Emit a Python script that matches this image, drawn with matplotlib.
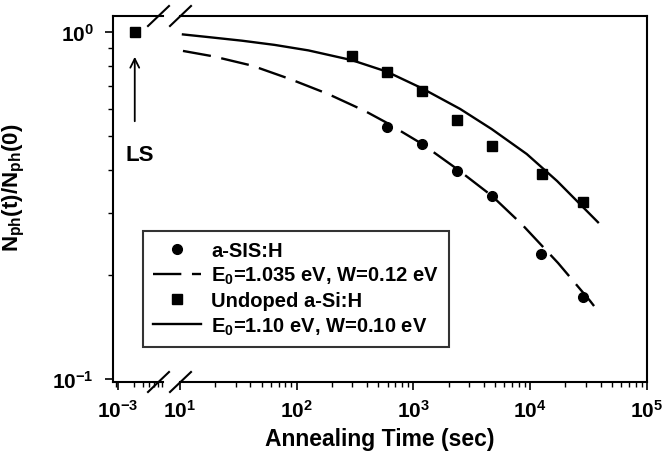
import matplotlib
matplotlib.use("Agg")
import matplotlib.pyplot as plt
from matplotlib.ticker import LogLocator, NullFormatter, FixedLocator
from matplotlib.lines import Line2D

plt.rcParams['font.family'] = ['Liberation Sans', 'DejaVu Sans']
plt.rcParams['font.weight'] = 'bold'
plt.rcParams['mathtext.fontset'] = 'custom'
plt.rcParams['mathtext.rm'] = 'Liberation Sans:bold'
plt.rcParams['mathtext.it'] = 'Liberation Sans:bold'
plt.rcParams['mathtext.bf'] = 'Liberation Sans:bold'
plt.rcParams['mathtext.default'] = 'rm'
plt.rcParams['axes.unicode_minus'] = False

# ---- data ----
ls_time = [2.1e-3]
ls_value = [1.0]

sis_time = [593, 1182, 2358, 4700, 12300, 28300]
sis_value = [0.532, 0.476, 0.3975, 0.337, 0.229, 0.172]

undoped_time = [297, 593, 1184, 2360, 4700, 12600, 28300]
undoped_value = [0.853, 0.767, 0.676, 0.558, 0.469, 0.390, 0.324]

fit_sis_time = [10.6, 19.2, 41.4, 87.5, 185, 384, 593, 1182, 2358, 4700, 8490, 17290, 32500, 38000]
fit_sis_value = [0.882, 0.851, 0.800, 0.732, 0.663, 0.592, 0.547, 0.476, 0.403, 0.337, 0.279, 0.216, 0.168, 0.157]

fit_undoped_time = [10.6, 17.4, 33.9, 64.6, 126, 295, 589, 1175, 2512, 4677, 9333, 16982, 38019]
fit_undoped_value = [0.984, 0.967, 0.944, 0.918, 0.885, 0.830, 0.769, 0.689, 0.600, 0.525, 0.445, 0.372, 0.283]

labels = ["a-SIS:H", r"E$_0$=1.035 eV, W=0.12 eV",
          "Undoped a-Si:H", r"E$_0$=1.10 eV, W=0.10 eV"]

W, H = 667, 464
fig = plt.figure(figsize=(W / 100, H / 100), dpi=100)

def fx(px):
    return px / W

def fy(py):
    return 1 - py / H

top, bot = 17, 383
ax1 = fig.add_axes([fx(113), fy(bot), fx(163) - fx(113), fy(top) - fy(bot)])
ax2 = fig.add_axes([fx(180), fy(bot), fx(647) - fx(180), fy(top) - fy(bot)])

ylim = (10 ** (-1 - 3 / 347), 10 ** (16 / 347))
for ax in (ax1, ax2):
    ax.set_yscale('log')
    ax.set_xscale('log')
    ax.set_ylim(*ylim)
    for s in ax.spines.values():
        s.set_linewidth(1.5)
    ax.tick_params(axis='both', which='major', direction='out', length=6, width=1.2,
                   labelsize=15, top=False, right=False)
    ax.tick_params(axis='x', which='major', pad=6)
    ax.tick_params(axis='y', which='major', pad=8)
    ax.tick_params(axis='both', which='minor', direction='out', length=3.5, width=1.0,
                   top=False, right=False)

ax1.set_xlim(10 ** (-3 - 5 / 52), 10 ** (-3 + 45 / 52))
ax2.set_xlim(10, 1e5)

ax1.spines['right'].set_visible(False)
ax2.spines['left'].set_visible(False)
ax2.tick_params(axis='y', which='both', left=False, labelleft=False)

ax1.xaxis.set_major_locator(FixedLocator([1e-3]))
ax1.xaxis.set_minor_locator(LogLocator(base=10, subs=range(2, 10), numticks=20))
ax1.xaxis.set_minor_formatter(NullFormatter())
ax2.xaxis.set_major_locator(LogLocator(base=10, numticks=10))
ax2.xaxis.set_minor_locator(LogLocator(base=10, subs=range(2, 10), numticks=20))
ax2.xaxis.set_minor_formatter(NullFormatter())
ax1.yaxis.set_major_locator(LogLocator(base=10, numticks=10))
ax1.yaxis.set_minor_locator(LogLocator(base=10, subs=range(2, 10), numticks=20))
ax1.yaxis.set_minor_formatter(NullFormatter())

# data
ax1.plot(ls_time, ls_value, 's', color='black', ms=7)
ax2.plot(fit_sis_time, fit_sis_value, color='black', lw=1.7, dashes=(12, 4.5))
ax2.plot(fit_undoped_time, fit_undoped_value, color='black', lw=1.7)
ax2.plot(sis_time, sis_value, 'o', color='black', ms=7)
ax2.plot(undoped_time, undoped_value, 's', color='black', ms=6.5)

# LS arrow
ax1.annotate('', xy=(ls_time[0], 0.864), xytext=(ls_time[0], 0.543),
             arrowprops=dict(arrowstyle='->', color='black', lw=1.3, mutation_scale=16))
ax1.text(1.4e-3, 0.445, 'LS', fontsize=16, fontweight='bold', ha='left', va='center')

ax1.set_ylabel(r'N$_{\mathregular{ph}}$(t)/N$_{\mathregular{ph}}$(0)', fontsize=16,
               fontweight='bold')
ax1.yaxis.set_label_coords((27 - 113) / 50, (383 - 188) / 366)
fig.text(fx(380), fy(440), 'Annealing Time (sec)', fontsize=16.5, fontweight='bold',
         ha='center', va='center')

# break marks
for x0 in (148, 170):
    for yc in (top, bot):
        fig.add_artist(Line2D([fx(x0), fx(x0 + 21)], [fy(yc + 10), fy(yc - 10)],
                              color='black', lw=1.5))

handles = [
    Line2D([], [], ls='none', marker='o', color='black', ms=7),
    Line2D([], [], color='black', lw=1.7, dashes=(12, 4.5)),
    Line2D([], [], ls='none', marker='s', color='black', ms=6.5),
    Line2D([], [], color='black', lw=1.7),
]
leg = fig.legend(handles, labels, loc='upper left', bbox_to_anchor=(fx(143), fy(232)),
                 borderaxespad=0,
                 prop={'size': 14.5, 'weight': 'bold'}, frameon=True, fancybox=False,
                 edgecolor='black', handlelength=2.4, labelspacing=0.25,
                 borderpad=0.5, handletextpad=0.5)
leg.get_frame().set_linewidth(1.5)

fig.savefig('out.png', dpi=100)
